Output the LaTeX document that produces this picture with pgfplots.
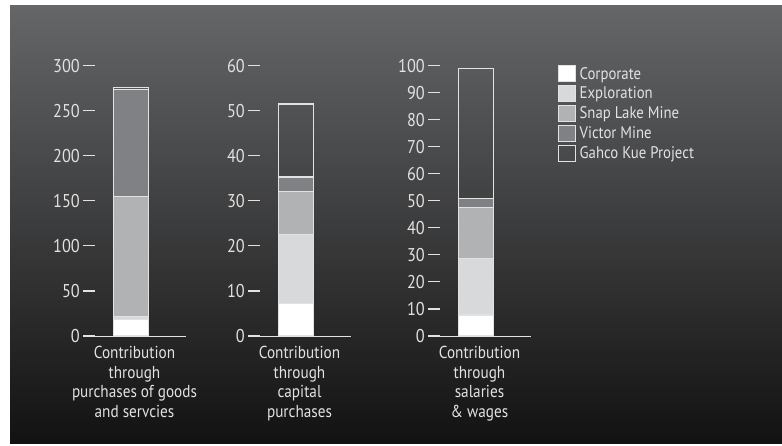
\documentclass[border=0pt]{standalone}
\usepackage{fontspec}
\setmainfont[FakeStretch=0.88]{PT Sans}
\usepackage{pgfplots}
\pgfplotsset{compat=1.18}
\definecolor{fg}{HTML}{E2E2E2}
\definecolor{bgtop}{HTML}{656668}
\definecolor{bgbot}{HTML}{121212}
\definecolor{cExp}{HTML}{D8D9DB}
\definecolor{cSnap}{HTML}{B1B2B4}
\definecolor{cVic}{HTML}{808184}
\pgfplotsset{
  myax/.style={
    scale only axis, width=102.4pt, height=270.3pt, anchor=south west,
    xmin=0, xmax=1, ymin=0, enlargelimits=false,
    ybar stacked, bar width=35pt,
    xtick=\empty,
    axis lines*=left,
    y axis line style={draw=none},
    x axis line style={draw=fg, line width=1pt},
    tick align=inside, major tick length=12pt,
    ytick style={draw=fg, line width=1.1pt},
    /pgf/number format/assume math mode=true,
    yticklabel style={font=\fontsize{18.5}{21}\selectfont, text=fg},
    xlabel style={align=center, font=\fontsize{17.3}{19.4}\selectfont, text=fg,
      at={(axis description cs:0.5,0)}, anchor=north, yshift=-7pt},
    every axis plot/.append style={draw=fg, line width=1.2pt},
  },
  legbox/.style={legend image code/.code={\draw[line width=1pt,draw=fg,fill=#1] (0pt,-8pt) rectangle (16.5pt,8pt);}},
}
\begin{document}
\begin{tikzpicture}
\useasboundingbox (0,0) rectangle (782pt,445pt);
\fill[white] (0,0) rectangle (782pt,445pt);
\shade[top color=bgtop, bottom color=bgbot] (10pt,2pt) rectangle (782pt,439pt);

\begin{axis}[myax, at={(83.3pt,109pt)}, ymax=300, ytick={0,50,...,300},
  xlabel={Contribution\\through\\purchases of goods\\and servcies}]
\addplot[fill=white] coordinates {(0.466,17.9)};
\addplot[fill=cExp] coordinates {(0.466,4.1)};
\addplot[fill=cSnap] coordinates {(0.466,132.6)};
\addplot[fill=cVic] coordinates {(0.466,119.1)};
\addplot[fill=none] coordinates {(0.466,2.5)};
\end{axis}

\begin{axis}[myax, at={(248.3pt,109pt)}, ymax=60, ytick={0,10,...,60},
  xlabel={Contribution\\through\\capital\\purchases}]
\addplot[fill=white] coordinates {(0.466,7.3)};
\addplot[fill=cExp] coordinates {(0.466,15.2)};
\addplot[fill=cSnap] coordinates {(0.466,9.6)};
\addplot[fill=cVic] coordinates {(0.466,3.2)};
\addplot[fill=none] coordinates {(0.466,16.2)};
\end{axis}

\begin{axis}[myax, at={(428.3pt,109pt)}, ymax=100, ytick={0,10,...,100},
  xlabel={Contribution\\through\\salaries\\\& wages},
  legend style={at={(1.266,1.0026)}, anchor=north west, draw=none, fill=none,
    font=\fontsize{16.8}{19}\selectfont, text=fg, row sep=2.4pt, column sep=2pt,
    inner sep=0pt, cells={anchor=west}},
  legend cell align=left]
\addplot[fill=white, forget plot] coordinates {(0.466,7.8)};
\addplot[fill=cExp, forget plot] coordinates {(0.466,20.9)};
\addplot[fill=cSnap, forget plot] coordinates {(0.466,18.9)};
\addplot[fill=cVic, forget plot] coordinates {(0.466,3.3)};
\addplot[fill=none, forget plot] coordinates {(0.466,48.1)};
\addlegendimage{legbox=white}\addlegendentry{Corporate}
\addlegendimage{legbox=cExp}\addlegendentry{Exploration}
\addlegendimage{legbox=cSnap}\addlegendentry{Snap Lake Mine}
\addlegendimage{legbox=cVic}\addlegendentry{Victor Mine}
\addlegendimage{legbox=none}\addlegendentry{Gahco Kue Project}
\end{axis}
\end{tikzpicture}
\end{document}
